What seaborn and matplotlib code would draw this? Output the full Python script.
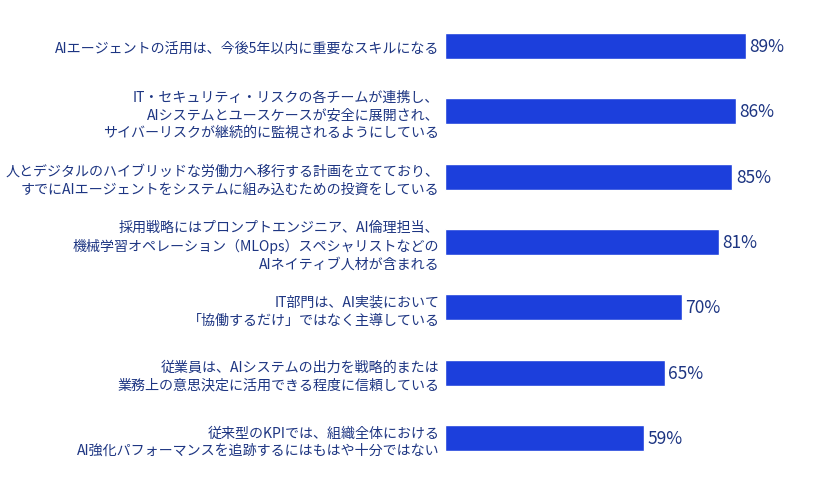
import matplotlib
matplotlib.use("Agg")
import matplotlib.pyplot as plt
import seaborn as sns
import pandas as pd

# --- dados ---
ROTULOS = [
    "AIエージェントの活用は、今後5年以内に重要なスキルになる",
    "IT・セキュリティ・リスクの各チームが連携し、\nAIシステムとユースケースが安全に展開され、\nサイバーリスクが継続的に監視されるようにしている",
    "人とデジタルのハイブリッドな労働力へ移行する計画を立てており、\nすでにAIエージェントをシステムに組み込むための投資をしている",
    "採用戦略にはプロンプトエンジニア、AI倫理担当、\n機械学習オペレーション（MLOps）スペシャリストなどの\nAIネイティブ人材が含まれる",
    "IT部門は、AI実装において\n「協働するだけ」ではなく主導している",
    "従業員は、AIシステムの出力を戦略的または\n業務上の意思決定に活用できる程度に信頼している",
    "従来型のKPIでは、組織全体における\nAI強化パフォーマンスを追跡するにはもはや十分ではない",
]
VALORES = [89, 86, 85, 81, 70, 65, 59]

AZUL = "#1c3fdc"
TEXTO = "#1d3582"

sns.set_theme(style="white")
plt.rcParams["font.family"] = ["Noto Sans CJK JP", "DejaVu Sans"]

df = pd.DataFrame({"item": ROTULOS, "pct": VALORES})

fig, ax = plt.subplots(figsize=(8.2, 4.89), dpi=100)
sns.barplot(data=df, x="pct", y="item", color=AZUL, saturation=1,
            width=0.4, ax=ax, orient="h")

for i, v in enumerate(VALORES):
    ax.text(v + 1.0, i, f"{v}%", va="center", ha="left",
            fontsize=12.5, color=TEXTO)

ax.set_xlim(0, 100)
ax.set_ylim(6.5, -0.5)
ax.set_xlabel("")
ax.set_ylabel("")
ax.set_xticks([])
ax.tick_params(axis="y", length=0, pad=4, labelsize=10.1, labelcolor=TEXTO)
for lbl in ax.get_yticklabels():
    lbl.set_linespacing(1.32)
for s in ax.spines.values():
    s.set_visible(False)

fig.subplots_adjust(left=0.5427, right=0.955, top=0.971, bottom=0.035)
fig.savefig("out.png", dpi=100)
